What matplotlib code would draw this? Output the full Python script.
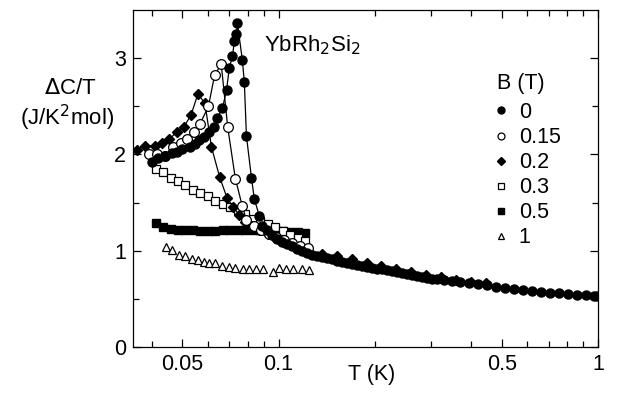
import matplotlib
matplotlib.use("Agg")
import matplotlib.pyplot as plt
from matplotlib.ticker import FixedLocator, NullFormatter, FixedFormatter
from matplotlib.lines import Line2D

plt.rcParams['font.family'] = ['Liberation Sans', 'DejaVu Sans']

# ---- data: B = 0 T ----
T0_low = [0.0402, 0.0418, 0.0440, 0.0462, 0.0482, 0.0500, 0.0526, 0.0546, 0.0565,
          0.0586, 0.0607, 0.0629, 0.0643, 0.0667, 0.0687, 0.0701, 0.0717, 0.0727,
          0.0738, 0.0743, 0.0770, 0.0781, 0.0793, 0.0822, 0.0839, 0.0870]
C0_low = [1.92, 1.96, 1.98, 2.01, 2.03, 2.06, 2.08, 2.11, 2.15,
          2.18, 2.23, 2.28, 2.38, 2.48, 2.67, 2.90, 3.02, 3.18,
          3.25, 3.36, 2.98, 2.75, 2.19, 1.76, 1.54, 1.36]
T0_high = [0.0889, 0.0922, 0.0956, 0.0991, 0.1027, 0.1065, 0.1104, 0.1144, 0.1186, 0.1229,
           0.1274, 0.1321, 0.1369, 0.1420, 0.1472, 0.1525, 0.1581, 0.1639, 0.1699, 0.1762,
           0.1826, 0.1893, 0.1963, 0.2035, 0.2109, 0.2186, 0.2267, 0.2350, 0.2436, 0.2525,
           0.2617, 0.2713, 0.2813, 0.2916, 0.3022, 0.3133, 0.3295, 0.3490, 0.3697, 0.3945,
           0.4208, 0.4490, 0.4789, 0.5109, 0.5452, 0.5817, 0.6206, 0.6622, 0.7066, 0.7539,
           0.8043, 0.8581, 0.9155, 0.9700, 0.9950]
C0_high = [1.26, 1.21, 1.16, 1.12, 1.09, 1.07, 1.05, 1.02, 1.00, 0.98,
           0.96, 0.945, 0.93, 0.92, 0.91, 0.895, 0.885, 0.87, 0.86, 0.85,
           0.845, 0.835, 0.825, 0.815, 0.805, 0.795, 0.785, 0.775, 0.765, 0.755,
           0.745, 0.735, 0.725, 0.72, 0.71, 0.705, 0.695, 0.685, 0.675, 0.665,
           0.65, 0.64, 0.625, 0.61, 0.60, 0.59, 0.58, 0.575, 0.565, 0.56,
           0.55, 0.545, 0.535, 0.53, 0.525]

# ---- B = 0.15 T ----
T015_low = [0.0394, 0.0415, 0.0440, 0.0466, 0.0493, 0.0518, 0.0543, 0.0568, 0.0603,
            0.0630, 0.0661, 0.0693, 0.0732, 0.0770, 0.0793]
C015_low = [2.00, 2.00, 1.98, 2.08, 2.12, 2.16, 2.23, 2.32, 2.50,
            2.82, 2.94, 2.28, 1.75, 1.46, 1.32]
T015_high = [0.0835, 0.088, 0.093, 0.098, 0.104, 0.110, 0.117, 0.124]
C015_high = [1.26, 1.22, 1.17, 1.14, 1.11, 1.08, 1.05, 1.03]

# ---- B = 0.2 T ----
T02_low = [0.0360, 0.0383, 0.0409, 0.0431, 0.0455, 0.0479, 0.0506, 0.0532, 0.0559,
           0.0588, 0.0616, 0.0653, 0.0689, 0.0722, 0.0754]
C02_low = [2.05, 2.09, 2.09, 2.12, 2.16, 2.23, 2.29, 2.41, 2.63,
           2.53, 2.08, 1.77, 1.55, 1.45, 1.37]
T02_high = [0.0787, 0.0828, 0.0870, 0.0925, 0.0976, 0.1034, 0.1096, 0.116, 0.1229,
            0.1369, 0.1526, 0.170, 0.1893, 0.2094, 0.2333, 0.2598, 0.2894, 0.3224,
            0.3592, 0.4002, 0.4457]
C02_high = [1.30, 1.26, 1.22, 1.17, 1.13, 1.09, 1.06, 1.03, 1.00,
            0.97, 0.94, 0.91, 0.87, 0.84, 0.81, 0.78, 0.75, 0.725,
            0.70, 0.68, 0.66]

# ---- B = 0.3 T and 0.5 T ----
T03 = [0.0412, 0.0435, 0.0459, 0.0484, 0.0511, 0.0539, 0.0569, 0.0601, 0.0634, 0.0669,
       0.0706, 0.0746, 0.0787, 0.0831, 0.0877, 0.0925, 0.0976, 0.1031, 0.1088, 0.1148,
       0.1212]
C03 = [1.85, 1.82, 1.76, 1.72, 1.68, 1.63, 1.60, 1.57, 1.52, 1.48,
       1.45, 1.42, 1.38, 1.33, 1.31, 1.28, 1.25, 1.20, 1.16, 1.13,
       1.10]
T05 = T03
C05 = [1.29, 1.25, 1.23, 1.22, 1.21, 1.21, 1.20, 1.20, 1.20, 1.21,
       1.21, 1.21, 1.22, 1.22, 1.22, 1.21, 1.21, 1.20, 1.19, 1.19,
       1.18]

# ---- B = 1 T ----
T1 = [0.0445, 0.0464, 0.0487, 0.0511, 0.0536, 0.0558, 0.0582, 0.0607, 0.0634, 0.0665,
      0.0698, 0.0732, 0.0772, 0.0810, 0.0850, 0.0891, 0.0957, 0.1005, 0.1055, 0.1106,
      0.1183, 0.1247]
C1 = [1.04, 1.01, 0.96, 0.94, 0.91, 0.90, 0.88, 0.87, 0.87, 0.84,
      0.83, 0.82, 0.81, 0.81, 0.81, 0.81, 0.78, 0.82, 0.81, 0.81,
      0.81, 0.80]

legend_labels = ['0', '0.15', '0.2', '0.3', '0.5', '1']

FS = 15.5

fig = plt.figure(figsize=(6.23, 3.99), dpi=100)
ax = fig.add_axes([133/623, 1-347/399, (598-133)/623, (347-10)/399])

lw = 0.9
ax.plot(T1, C1, ls='none', marker='^', ms=5.5, mfc='white', mec='black', mew=0.9, zorder=3)
ax.plot(T05, C05, ls='none', marker='s', ms=6, mfc='black', mec='black', zorder=3)
ax.plot(T03, C03, ls='none', marker='s', ms=6, mfc='white', mec='black', mew=0.9, zorder=4)
ax.plot(T02_high, C02_high, ls='none', marker='D', ms=5, mfc='black', mec='black', zorder=5)
ax.plot(T02_low, C02_low, ls='-', lw=lw, color='black', marker='D', ms=5, mfc='black', mec='black', zorder=5)
ax.plot(T015_high, C015_high, ls='none', marker='o', ms=7, mfc='white', mec='black', mew=0.9, zorder=5)
ax.plot(T015_low, C015_low, ls='-', lw=lw, color='black', marker='o', ms=7, mfc='white', mec='black', mew=0.9, zorder=5)
ax.plot(T0_high, C0_high, ls='none', marker='o', ms=6.5, mfc='black', mec='black', zorder=6)
ax.plot(T0_low, C0_low, ls='-', lw=lw, color='black', marker='o', ms=6.5, mfc='black', mec='black', zorder=6)

ax.set_xscale('log')
ax.set_xlim(0.035, 1.0)
ax.set_ylim(0, 3.5)

ax.xaxis.set_major_locator(FixedLocator([0.05, 0.1, 0.5, 1]))
ax.xaxis.set_major_formatter(FixedFormatter(['0.05', '0.1', '0.5', '1']))
ax.xaxis.set_minor_locator(FixedLocator([0.04, 0.06, 0.07, 0.08, 0.09, 0.2, 0.3, 0.4, 0.6, 0.7, 0.8, 0.9]))
ax.xaxis.set_minor_formatter(NullFormatter())
ax.yaxis.set_major_locator(FixedLocator([0, 1, 2, 3]))
ax.yaxis.set_minor_locator(FixedLocator([0.5, 1.5, 2.5]))

ax.tick_params(which='both', direction='in', top=True, right=True, width=0.9, labelsize=FS)
ax.tick_params(which='major', length=6, pad=5)
ax.tick_params(which='minor', length=4)
for s in ax.spines.values():
    s.set_linewidth(0.9)

ax.set_xlabel('T (K)', fontsize=FS)
ax.xaxis.set_label_coords((372-133)/(598-133), -0.05, transform=ax.transAxes)
ax.xaxis.label.set_va('top')

fig.text(70/623, 1-88/399, r'$\Delta$C/T', ha='center', va='center', fontsize=16)
fig.text(67/623, 1-118/399, r'(J/K$^2$mol)', ha='center', va='center', fontsize=16)

fig.text(264/623, 1-45/399, r'YbRh$_2$Si$_2$', ha='left', va='center', fontsize=16)

fig.text(497/623, 1-83/399, 'B (T)', ha='left', va='center', fontsize=FS)
handles = [
    Line2D([], [], ls='none', marker='o', ms=5, mfc='black', mec='black'),
    Line2D([], [], ls='none', marker='o', ms=5, mfc='white', mec='black', mew=0.9),
    Line2D([], [], ls='none', marker='D', ms=4, mfc='black', mec='black'),
    Line2D([], [], ls='none', marker='s', ms=5, mfc='white', mec='black', mew=0.9),
    Line2D([], [], ls='none', marker='s', ms=5, mfc='black', mec='black'),
    Line2D([], [], ls='none', marker='^', ms=5, mfc='white', mec='black', mew=0.9),
]
leg = ax.legend(handles, legend_labels, frameon=False, fontsize=FS,
                loc='upper left',
                bbox_to_anchor=((495-133)/(598-133), 1-(102-10)/(347-10)),
                handlelength=0.6, handletextpad=0.5, labelspacing=0.19,
                borderpad=0, borderaxespad=0)

fig.savefig('out.png', dpi=100)
